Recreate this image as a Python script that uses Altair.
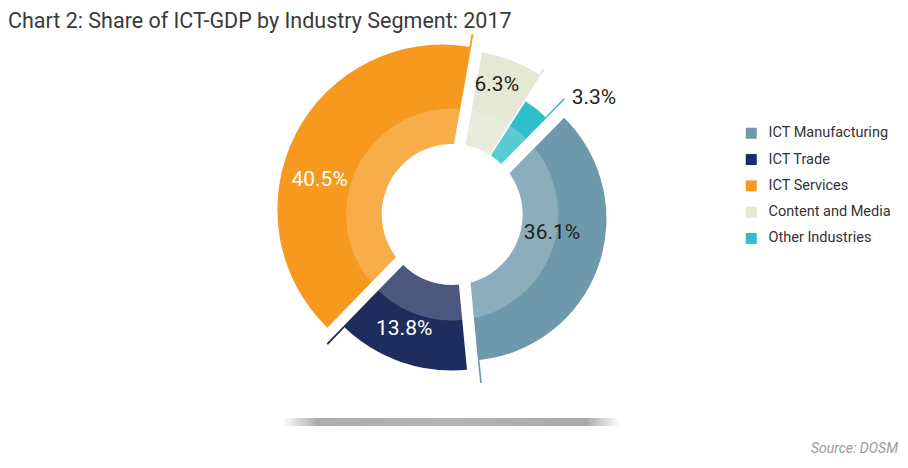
import math
import altair as alt
import pandas as pd

# ---- data ----
categories = ["ICT Manufacturing", "ICT Trade", "ICT Services", "Content and Media", "Other Industries"]
shares = [36.1, 13.8, 40.5, 6.3, 3.3]
label_texts = ["36.1%", "13.8%", "40.5%", "6.3%", "3.3%"]

# ---- styling ----
FONT = "Roboto"
colors = ["#6E99AC", "#1F2D5E", "#F7991F", "#E5E8D2", "#2FBFC8"]
outer_r = {"ICT Manufacturing": 142, "ICT Trade": 156, "ICT Services": 165,
           "Content and Media": 160, "Other Industries": 129}
explode = {"ICT Manufacturing": 13, "ICT Trade": 0, "ICT Services": 11,
           "Content and Media": 5, "Other Industries": 6}
tail_len = {"ICT Manufacturing": 23, "ICT Trade": 24, "ICT Services": 13,
            "Content and Media": 7, "Other Industries": 26}
label_r = {"ICT Manufacturing": 101.5, "ICT Trade": 124, "ICT Services": 137,
           "Content and Media": 137, "Other Industries": 183.5}
label_nudge = {"ICT Manufacturing": -9.1, "ICT Trade": 3.4, "ICT Services": -12.6,
               "Content and Media": -2.4, "Other Industries": 11.9}
label_fill = {"ICT Manufacturing": "#231F20", "ICT Trade": "#FFFFFF", "ICT Services": "#FFFFFF",
              "Content and Media": "#231F20", "Other Industries": "#231F20"}

TOTAL = sum(shares)
START = math.radians(44.6)        # angle where the first segment starts (clockwise from 12 o'clock)
CX, CY = 444.2, 166.5             # pie centre inside the plot area
HOLE_R = 70.5
RING_R = 106
EPS = 0.0017 * TOTAL

df = pd.DataFrame({
    "category": categories,
    "share": shares,
    "label": label_texts,
    "order": list(range(len(categories))),
})
df["outer"] = df["category"].map(outer_r)
df["explode"] = df["category"].map(explode)
df["tail"] = df["category"].map(tail_len)
df["lr"] = df["category"].map(label_r)
df["nudge"] = df["category"].map(label_nudge)
df["lfill"] = df["category"].map(label_fill)

theta_scale = alt.Scale(domain=[0, TOTAL], range=[START, START + 2 * math.pi])

base = alt.Chart(df).transform_window(
    cum="sum(share)", sort=[alt.SortField("order")], frame=[None, 0]
).transform_calculate(
    start="datum.cum - datum.share",
    tail0=f"datum.cum - {EPS}",
    mid=f"{START} + 2*PI*(datum.cum - datum.share/2)/{TOTAL}",
    cx=f"{CX} + datum.explode*sin(datum.mid)",
    cy=f"{CY} - datum.explode*cos(datum.mid)",
    tailr="datum.outer + datum.tail",
    lang="datum.mid + datum.nudge*PI/180",
    lx=f"{CX} + datum.lr*sin(datum.lang)",
    ly=f"{CY} - datum.lr*cos(datum.lang)",
)

color_enc = alt.Color(
    "category:N",
    scale=alt.Scale(domain=categories, range=colors),
    sort=categories,
    legend=alt.Legend(
        title=None, orient="none", legendX=736, legendY=78,
        symbolType="square", symbolSize=121, symbolStrokeWidth=0,
        labelFont=FONT, labelFontSize=14.5, labelColor="#333333",
        labelOffset=10, rowPadding=11.3,
    ),
)

slices = base.mark_arc().encode(
    theta=alt.Theta("start:Q", scale=theta_scale, stack=None),
    theta2="cum:Q",
    radius=alt.Radius("outer:Q", scale=None),
    x=alt.X("cx:Q", scale=None, axis=None),
    y=alt.Y("cy:Q", scale=None, axis=None),
    color=color_enc,
)

tails = base.mark_arc().encode(
    theta=alt.Theta("tail0:Q", scale=theta_scale, stack=None),
    theta2="cum:Q",
    radius=alt.Radius("tailr:Q", scale=None),
    radius2="outer:Q",
    x=alt.X("cx:Q", scale=None, axis=None),
    y=alt.Y("cy:Q", scale=None, axis=None),
    color=color_enc,
)

one = pd.DataFrame({"k": [0]})
ring = alt.Chart(one).mark_arc(
    radius=RING_R, radius2=HOLE_R, theta=0, theta2=2 * math.pi,
    fill="#FFFFFF", fillOpacity=0.2,
).encode(x=alt.value(CX), y=alt.value(CY))

hole = alt.Chart(one).mark_arc(
    radius=HOLE_R, theta=0, theta2=2 * math.pi, fill="#FFFFFF",
).encode(x=alt.value(CX), y=alt.value(CY))

labels = base.mark_text(font=FONT, fontSize=21, baseline="middle", align="center").encode(
    x=alt.X("lx:Q", scale=None, axis=None),
    y=alt.Y("ly:Q", scale=None, axis=None),
    text="label:N",
    fill=alt.Fill("lfill:N", scale=None, legend=None),
)

shadow = alt.Chart(one).mark_rect(
    fill=alt.LinearGradient(
        gradient="linear", x1=0, x2=1, y1=0, y2=0,
        stops=[
            alt.GradientStop(offset=0, color="#FFFFFF"),
            alt.GradientStop(offset=0.1, color="#B0ACAC"),
            alt.GradientStop(offset=0.5, color="#B4B4B8"),
            alt.GradientStop(offset=0.9, color="#ACA8A8"),
            alt.GradientStop(offset=1, color="#FFFFFF"),
        ],
    )
).encode(x=alt.value(275), x2=alt.value(612), y=alt.value(370), y2=alt.value(378))

source = alt.Chart(one).mark_text(
    text="Source: DOSM", font=FONT, fontSize=14, fontStyle="italic",
    color="#9A9A9A", align="right", baseline="middle",
).encode(x=alt.value(890), y=alt.value(401))

chart = alt.layer(slices, tails, ring, hole, labels, shadow, source).properties(
    width=892, height=412,
    padding={"left": 0, "top": 40, "right": 0, "bottom": 0},
    autosize=alt.AutoSizeParams(type="none"),
    title=alt.Title(
        "Chart 2: Share of ICT-GDP by Industry Segment: 2017",
        anchor="start", font=FONT, fontSize=21.5, fontWeight="normal",
        color="#3A3A3A", offset=12, dy=11,
    ),
).configure_view(stroke=None)

chart.save("out.html", embed_options={"renderer": "svg", "actions": False})
